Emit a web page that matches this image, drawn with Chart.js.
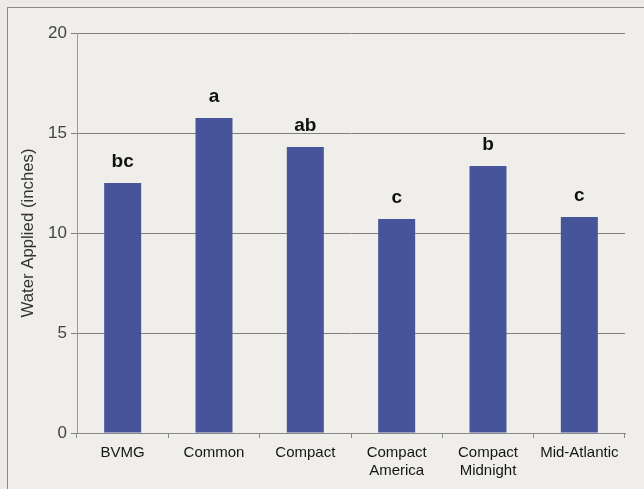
<!DOCTYPE html>
<html><head><meta charset="utf-8">
<script src="https://cdn.jsdelivr.net/npm/chart.js@4"></script>
<style>
html,body{margin:0;padding:0;background:#ecebe8;}
#wrap{position:relative;width:644px;height:489px;overflow:hidden;}
#frame{position:absolute;left:7px;top:7px;width:660px;height:500px;border-left:1px solid #8a8a88;border-top:1px solid #8a8a88;background:#efeeeb;}
canvas{position:absolute;left:0;top:0;}
</style></head>
<body><div id="wrap"><div id="frame"></div><canvas id="c" width="644" height="489"></canvas></div>
<script>
const categories = [["BVMG"],["Common"],["Compact"],["Compact","America"],["Compact","Midnight"],["Mid-Atlantic"]];
const waterApplied = [12.5, 15.75, 14.3, 10.7, 13.35, 10.8];
const groupLetters = ["bc","a","ab","c","b","c"];
const yTicks = [0,5,10,15,20];

const letterPlugin = {
  id:'letters',
  afterDatasetsDraw(chart){
    const ctx = chart.ctx;
    const meta = chart.getDatasetMeta(0);
    ctx.save();
    ctx.font = 'bold 19px "Liberation Sans", Arial, sans-serif';
    ctx.fillStyle = '#111';
    ctx.textAlign = 'center';
    ctx.textBaseline = 'alphabetic';
    meta.data.forEach((bar,i)=>{
      ctx.fillText(groupLetters[i], bar.x, bar.y - 16);
    });
    ctx.restore();
  }
};

new Chart(document.getElementById('c'), {
  type:'bar',
  data:{labels:categories, datasets:[{data:waterApplied, backgroundColor:'#46559a', barPercentage:0.405, categoryPercentage:1.0}]},
  options:{
    responsive:false, animation:false,
    layout:{padding:{top:33,right:19,left:18,bottom:0}},
    plugins:{legend:{display:false}, tooltip:{enabled:false}},
    scales:{
      x:{
        grid:{drawOnChartArea:false, drawTicks:true, tickLength:5, offset:true, color:'#888'},
        border:{color:'#888'},
        ticks:{color:'#151515', font:{family:'"Liberation Sans", Arial', size:15}, padding:6, maxRotation:0, autoSkip:false},
        afterFit(s){ s.height = 56; }
      },
      y:{
        min:0, max:20,
        afterBuildTicks(s){ s.ticks = yTicks.map(v=>({value:v})); },
        grid:{color:'#808080', tickLength:6},
        border:{color:'#999'},
        ticks:{color:'#444', font:{family:'"Liberation Sans", Arial', size:17}, padding:4},
        title:{display:true, text:'Water Applied (inches)', color:'#333', font:{family:'"Liberation Sans", Arial', size:16.8}, padding:{top:0,bottom:0}},
        afterFit(s){ s.width = 59; }
      }
    }
  },
  plugins:[letterPlugin]
});
</script></body></html>
